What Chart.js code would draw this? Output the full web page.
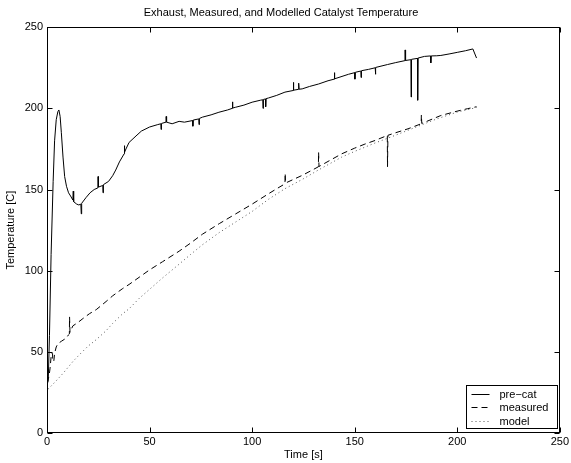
<!DOCTYPE html>
<html>
<head>
<meta charset="utf-8">
<script src="https://cdn.jsdelivr.net/npm/chart.js@4.4.0/dist/chart.umd.min.js"></script>
<style>
  html, body { margin: 0; padding: 0; background: #fff; }
  #wrap { width: 571px; height: 463px; }
</style>
</head>
<body>
<div id="wrap"><canvas id="tempChart" width="571" height="463"></canvas></div>
<script>
const preCatTime = [0, 0.6, 1.2, 2, 3, 3.7, 4.5, 5.3, 5.8, 6.4, 7, 7.8, 8.6, 9.5, 10.5, 11.5,
  12.6, 12.8, 13, 14.5, 15.5, 16.5, 16.7, 16.9, 19, 21, 23, 24.8, 24.9, 25.1, 27.2, 27.3, 27.5,
  30, 32, 33.5, 35.3, 37.6, 37.7, 37.9, 38.5, 40, 43.4, 46, 50, 54, 55.5, 55.6, 55.8, 58, 58.1,
  58.3, 61, 64.4, 67, 71, 71.1, 71.3, 74, 74.1, 74.3, 75.8, 80, 83.8, 88, 90.3, 90.4, 90.6, 92,
  96, 100, 104, 105.2, 105.3, 105.5, 106.5, 106.6, 106.8, 108, 112, 116, 120, 120.1, 120.3,
  122.6, 122.7, 122.9, 124.4, 128, 132.4, 137, 140, 140.1, 140.3, 147, 150, 150.1, 150.3, 153,
  153.1, 153.3, 156.7, 160, 160.1, 160.3, 166, 170, 174.5, 174.6, 174.8, 177.4, 177.5, 177.7,
  180.6, 180.7, 180.9, 184, 187, 187.1, 187.3, 190, 192, 196, 200, 204, 207.6, 209.4];
const preCatTemp = [30, 32, 60, 110, 155, 180, 193, 198, 199, 195, 185, 170, 158, 152, 148, 146,
  143.5, 149, 142.5, 141, 140.5, 141, 135, 141.5, 145, 148, 150, 151, 158, 151.5, 152.5, 148, 153,
  155, 158.5, 162, 167, 172, 177, 173, 175, 179, 183, 186, 188.5, 190, 190.5, 187, 190.7, 191.5, 195,
  191.5, 190.5, 192, 191.5, 192.5, 189, 192.8, 193.5, 190, 193.8, 194.6, 196, 197.6, 199, 200, 204, 200.2, 200.7,
  202, 203.8, 205, 205.3, 200, 205.5, 205.8, 201, 206, 206.4, 208, 210, 211, 216, 211.2,
  211.7, 215.5, 211.8, 212, 213.5, 215, 217, 218, 222, 218.2, 221, 222, 218, 222.2, 223,
  219, 223.2, 224, 225, 221, 225.2, 227, 228.2, 229.4, 236, 229.5, 230, 207, 230.2,
  230.8, 205, 231, 232, 232.3, 228, 232.3, 232.4, 232.6, 233.5, 234.5, 235.5, 236.6, 231];

// measured catalyst temperature
const measuredTime = [0, 1, 1.5, 2, 2.1, 2.7, 2.8, 3.3, 3.7, 4.5, 5.3, 7, 9.4, 10.5, 10.9, 11, 11.2,
  12.6, 15, 17.5, 20.7, 24, 28.8, 32, 36.9, 40, 45, 50, 56.3, 64.4, 70, 75.8, 84, 92, 100, 108,
  112, 116, 116.1, 116.3, 124.4, 132.3, 132.4, 132.6, 138, 143.7, 150, 155, 159.9, 165.9, 166,
  166.2, 170, 176, 182.4, 182.5, 182.7, 188, 192, 200, 205, 209.4];
const measuredTemp = [31, 35, 40, 47, 49, 49, 45, 44, 49, 53, 55, 56.5, 58.5, 60.5, 61, 71.5, 62,
  66, 68, 70.5, 73.5, 76, 81, 84.5, 89, 91.5, 96, 100.5, 105.5, 112, 117, 122.5, 129, 135, 141, 147.4,
  150.5, 153.5, 160, 154, 158.7, 164, 173, 164.2, 168, 172, 175.5, 178, 180.2, 183.3, 164,
  183.4, 185, 187.4, 190.5, 196, 190.7, 193.5, 195.6, 198.3, 199.8, 201];

// modelled catalyst temperature
const modelTime = [0.5, 1.3, 4, 8, 12.6, 16, 20, 24, 28.8, 32, 36.9, 40, 45, 50, 56.3, 64.4, 70,
  75.8, 84, 92, 100, 108, 116, 124.4, 132, 143.7, 150, 160, 170, 180, 190, 200, 209.4];
const modelTemp = [27, 28, 31.5, 37, 44, 48.5, 53.5, 57.5, 63, 67.5, 73.5, 76.5, 83, 88.5, 95.5, 104, 110,
  116, 123.5, 130, 136.5, 144, 150.5, 156.2, 161.8, 170, 173.5, 178.7, 183.5, 188.5, 193.5, 197.7, 200.5];

const xTicks = [0, 50, 100, 150, 200, 250];
const yTicks = [0, 50, 100, 150, 200, 250];
const seriesLabels = ["pre\u2212cat", "measured", "model"];

const toPoints = (xs, ys) => xs.map((x, i) => ({ x: x, y: ys[i] }));

Chart.defaults.font.family = "'Liberation Sans', Arial, sans-serif";
Chart.defaults.font.size = 11;
Chart.defaults.color = "#000";

const lineStyles = [
  { color: "#000", dash: [] },
  { color: "#000", dash: [6, 4] },
  { color: "#555", dash: [1, 3] },
];

// box, inward ticks on all four sides and the legend inside the axes
const matlabFrame = {
  id: "matlabFrame",
  afterDraw(chart) {
    const { ctx, chartArea: a, scales } = chart;
    const L = Math.round(a.left) + 0.5, R = Math.round(a.right) - 0.5;
    const T = Math.round(a.top) + 0.5, B = Math.round(a.bottom) - 0.5;
    const tick = 5;
    ctx.save();
    ctx.strokeStyle = "#000";
    ctx.lineWidth = 1;
    ctx.setLineDash([]);
    ctx.strokeRect(L, T, R - L, B - T);
    ctx.beginPath();
    xTicks.forEach((v) => {
      const px = Math.round(scales.x.getPixelForValue(v)) + 0.5;
      ctx.moveTo(px, B); ctx.lineTo(px, B - tick);
      ctx.moveTo(px, T); ctx.lineTo(px, T + tick);
    });
    yTicks.forEach((v) => {
      const py = Math.round(scales.y.getPixelForValue(v)) + 0.5;
      ctx.moveTo(L, py); ctx.lineTo(L + tick, py);
      ctx.moveTo(R, py); ctx.lineTo(R - tick, py);
    });
    ctx.stroke();

    // legend
    const bx = 466.5, by = 385.5, bw = 91, bh = 43;
    ctx.fillStyle = "#fff";
    ctx.fillRect(bx, by, bw, bh);
    ctx.strokeRect(bx, by, bw, bh);
    ctx.font = "11px 'Liberation Sans', Arial, sans-serif";
    ctx.textBaseline = "middle";
    seriesLabels.forEach((label, i) => {
      const y = Math.round(by + 8 + i * 13.5) + 0.5;
      ctx.strokeStyle = lineStyles[i].color;
      ctx.setLineDash(lineStyles[i].dash);
      ctx.beginPath();
      ctx.moveTo(bx + 5, y);
      ctx.lineTo(bx + 23, y);
      ctx.stroke();
      ctx.fillStyle = "#000";
      ctx.fillText(label, bx + 33, y);
    });
    ctx.restore();
  },
};

const ctx = document.getElementById("tempChart").getContext("2d");

const tempChart = new Chart(ctx, {
  type: "line",
  data: {
    datasets: [
      { label: seriesLabels[0], data: toPoints(preCatTime, preCatTemp) },
      { label: seriesLabels[1], data: toPoints(measuredTime, measuredTemp) },
      { label: seriesLabels[2], data: toPoints(modelTime, modelTemp) },
    ].map((ds, i) => ({
      ...ds,
      borderColor: lineStyles[i].color,
      borderDash: lineStyles[i].dash,
      borderWidth: 1,
      pointRadius: 0,
      tension: 0,
      fill: false,
    })),
  },
  options: {
    responsive: false,
    animation: false,
    devicePixelRatio: 1,
    layout: { padding: { left: 0, right: 9, top: 0, bottom: 0 } },
    plugins: {
      legend: { display: false },
      tooltip: { enabled: false },
      title: {
        display: true,
        text: "Exhaust, Measured, and Modelled Catalyst Temperature",
        font: { size: 11, weight: "normal" },
        padding: { top: 6, bottom: 8 },
        color: "#000",
      },
    },
    scales: {
      x: {
        type: "linear",
        min: 0,
        max: 250,
        afterBuildTicks: (scale) => { scale.ticks = xTicks.map((v) => ({ value: v })); },
        afterFit: (scale) => { scale.height = 30; },
        grid: { display: false, drawTicks: false },
        border: { display: false },
        ticks: { padding: 2, maxRotation: 0, color: "#000" },
        title: { display: true, text: "Time [s]", padding: { top: 0, bottom: 1 }, color: "#000" },
      },
      y: {
        type: "linear",
        min: 0,
        max: 250,
        afterBuildTicks: (scale) => { scale.ticks = yTicks.map((v) => ({ value: v })); },
        afterFit: (scale) => { scale.width = 47; },
        grid: { display: false, drawTicks: false },
        border: { display: false },
        ticks: { padding: 4, color: "#000" },
        title: { display: true, text: "Temperature [C]", padding: { top: 4, bottom: 0 }, color: "#000" },
      },
    },
  },
  plugins: [matlabFrame],
});
</script>
</body>
</html>
